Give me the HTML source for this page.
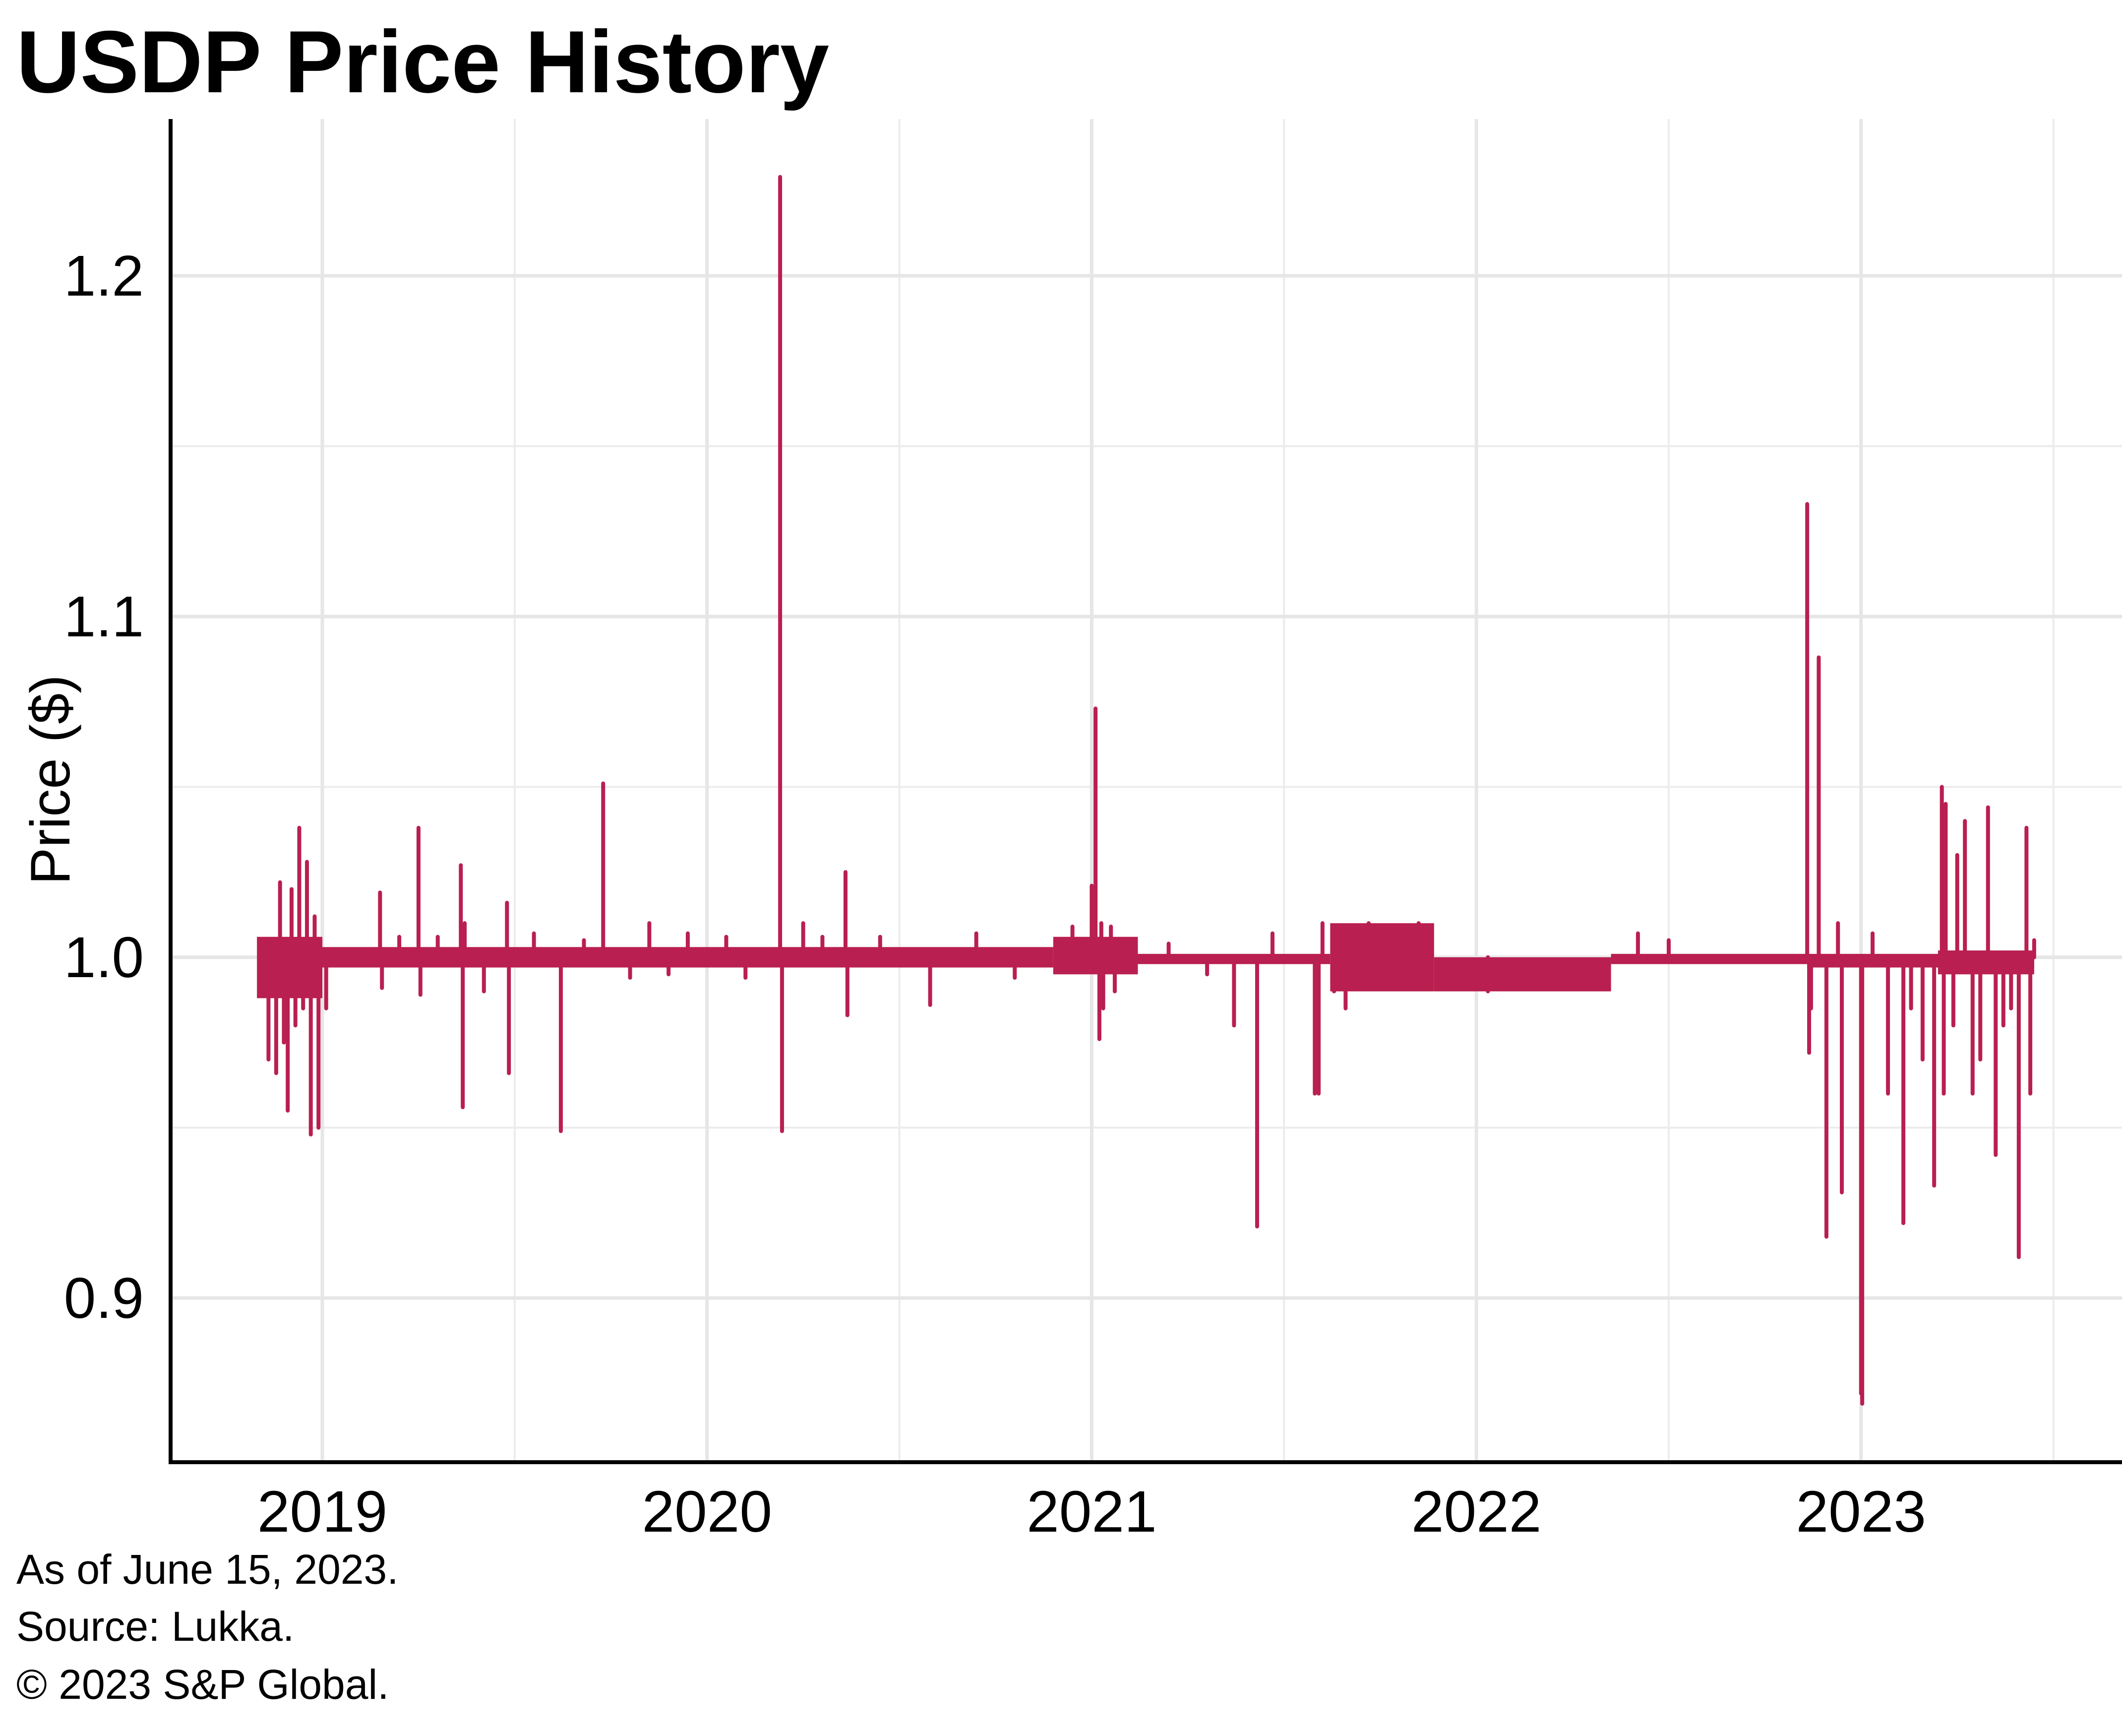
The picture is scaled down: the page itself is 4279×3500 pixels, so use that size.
<!DOCTYPE html>
<html><head><meta charset="utf-8"><style>
html,body{margin:0;padding:0;background:#fff}
body{width:4279px;height:3500px;overflow:hidden;font-family:"Liberation Sans",sans-serif}
svg{display:block}
</style></head><body>
<svg id="chart" width="4279" height="3500" viewBox="0 0 4279 3500">
<text x="33" y="186" font-family="Liberation Sans, sans-serif" font-weight="bold" font-size="178" fill="#000">USDP Price History</text>
<g id="grid"></g>
<g id="series"></g>
<line x1="344" y1="240" x2="344" y2="2952" stroke="#000" stroke-width="8"/>
<line x1="340" y1="2948" x2="4279" y2="2948" stroke="#000" stroke-width="8"/>
<g id="yticks"></g>
<g id="xticks"></g>
<text transform="translate(140,1572) rotate(-90)" text-anchor="middle" font-size="112" font-family="Liberation Sans, sans-serif" fill="#000">Price ($)</text>
<text x="33" y="3193" font-size="84" fill="#000">As of June 15, 2023.</text>
<text x="33" y="3308" font-size="84" fill="#000">Source: Lukka.</text>
<text x="33" y="3425" font-size="84" fill="#000">© 2023 S&amp;P Global.</text>
</svg>
<script>
const yTickValues = [0.9, 1.0, 1.1, 1.2];
const yTickLabels = ["0.9", "1.0", "1.1", "1.2"];
const yMinorValues = [0.95, 1.05, 1.15];
const xTickYears = [2019, 2020, 2021, 2022, 2023];
const xTickLabels = ["2019", "2020", "2021", "2022", "2023"];
const xMinorYears = [2019.5, 2020.5, 2021.5, 2022.5, 2023.5];
// dense noise bands: start, end, low, high
const bandStart = [2018.83, 2019.0, 2020.9, 2021.1, 2021.62, 2021.89, 2022.35, 2022.86, 2023.2];
const bandEnd   = [2019.0, 2020.9, 2021.12, 2021.62, 2021.89, 2022.35, 2022.86, 2023.45, 2023.45];
const bandLow   = [0.988, 0.997, 0.995, 0.998, 0.99, 0.99, 0.998, 0.997, 0.995];
const bandHigh  = [1.006, 1.003, 1.006, 1.001, 1.01, 1.0, 1.001, 1.001, 1.002];
// spikes from the 1.0 baseline: date (decimal year) and extreme price
const spikeDates = [2018.84,2018.86,2018.87,2018.88,2018.89,2018.9,2018.91,2018.92,2018.93,2018.94,2018.95,2018.96,2018.97,2018.98,2018.99,2019.01,
2019.15,2019.155,2019.2,2019.25,2019.255,2019.3,2019.36,2019.365,2019.37,2019.42,2019.48,2019.485,2019.55,2019.62,2019.68,2019.73,2019.8,2019.85,2019.9,2019.95,
2020.05,2020.1,2020.19,2020.195,2020.25,2020.3,2020.36,2020.365,2020.45,2020.58,2020.7,2020.8,2020.95,2021.0,2021.01,2021.02,2021.025,2021.03,2021.05,2021.06,
2021.2,2021.3,2021.37,2021.43,2021.47,2021.58,2021.59,2021.6,2021.63,2021.66,2021.72,2021.85,2022.03,2022.42,2022.5,
2022.86,2022.865,2022.87,2022.89,2022.91,2022.94,2022.95,2023.0,2023.003,2023.03,2023.07,2023.11,2023.13,
2023.16,2023.19,2023.21,2023.215,2023.22,2023.24,2023.25,2023.27,2023.29,2023.31,2023.33,2023.35,2023.37,2023.39,2023.41,2023.43,2023.44,2023.45];
const spikeValues = [0.99,0.97,1.005,0.966,1.022,0.975,0.955,1.02,0.98,1.038,0.985,1.028,0.948,1.012,0.95,0.985,
1.019,0.991,1.006,1.038,0.989,1.006,1.027,0.956,1.01,0.99,1.016,0.966,1.007,0.949,1.005,1.051,0.994,1.01,0.995,1.007,
1.006,0.994,1.229,0.949,1.01,1.006,1.025,0.983,1.006,0.986,1.007,0.994,1.009,1.021,1.073,0.976,1.01,0.985,1.009,0.99,
1.004,0.995,0.98,0.921,1.007,0.96,0.96,1.01,0.99,0.985,1.01,1.01,0.99,1.007,1.005,
1.133,0.972,0.985,1.088,0.918,1.01,0.931,0.872,0.869,1.007,0.96,0.922,0.985,
0.97,0.933,1.05,0.96,1.045,0.98,1.03,1.04,0.96,0.97,1.044,0.942,0.98,0.985,0.912,1.038,0.96,1.005];

const X = t => 650 + (t - 2019) * 775.7;
const Y = v => 1930 - (v - 1) * 6870;
const NS = "http://www.w3.org/2000/svg";
const grid = document.getElementById('grid');
const series = document.getElementById('series');
const yt = document.getElementById('yticks');
const xt = document.getElementById('xticks');
function mk(tag, attrs, parent){const e=document.createElementNS(NS,tag);for(const k in attrs)e.setAttribute(k,attrs[k]);parent.appendChild(e);return e;}

yMinorValues.forEach(v=>{const l=mk('line',{x1:344,x2:4279,y1:Y(v),y2:Y(v),stroke:'#ececec','stroke-width':4},grid);

});
xMinorYears.forEach(t=>{const l=mk('line',{x1:X(t),x2:X(t),y1:240,y2:2948,stroke:'#ececec','stroke-width':4},grid);

});
yTickValues.forEach((v,i)=>{const l=mk('line',{x1:344,x2:4279,y1:Y(v),y2:Y(v),stroke:'#e6e6e6','stroke-width':7},grid);


const t=mk('text',{x:290,y:Y(v)+40,'text-anchor':'end','font-size':116,fill:'#000'},yt);t.textContent=yTickLabels[i];

});
xTickYears.forEach((yr,i)=>{const l=mk('line',{x1:X(yr),x2:X(yr),y1:240,y2:2948,stroke:'#e6e6e6','stroke-width':7},grid);


const t=mk('text',{x:X(yr),y:3088,'text-anchor':'middle','font-size':118,fill:'#000'},xt);t.textContent=xTickLabels[i];

});

const col='#b91f50';
bandStart.forEach((s,i)=>{const r=mk('rect',{x:X(s),y:Y(bandHigh[i]),width:X(bandEnd[i])-X(s),height:Y(bandLow[i])-Y(bandHigh[i]),fill:col},series);

});
spikeDates.forEach((d,i)=>{const l=mk('line',{x1:X(d),x2:X(d),y1:Y(1.0),y2:Y(spikeValues[i]),stroke:col,'stroke-width':8,'stroke-linecap':'round'},series);

});
</script>
</body></html>
